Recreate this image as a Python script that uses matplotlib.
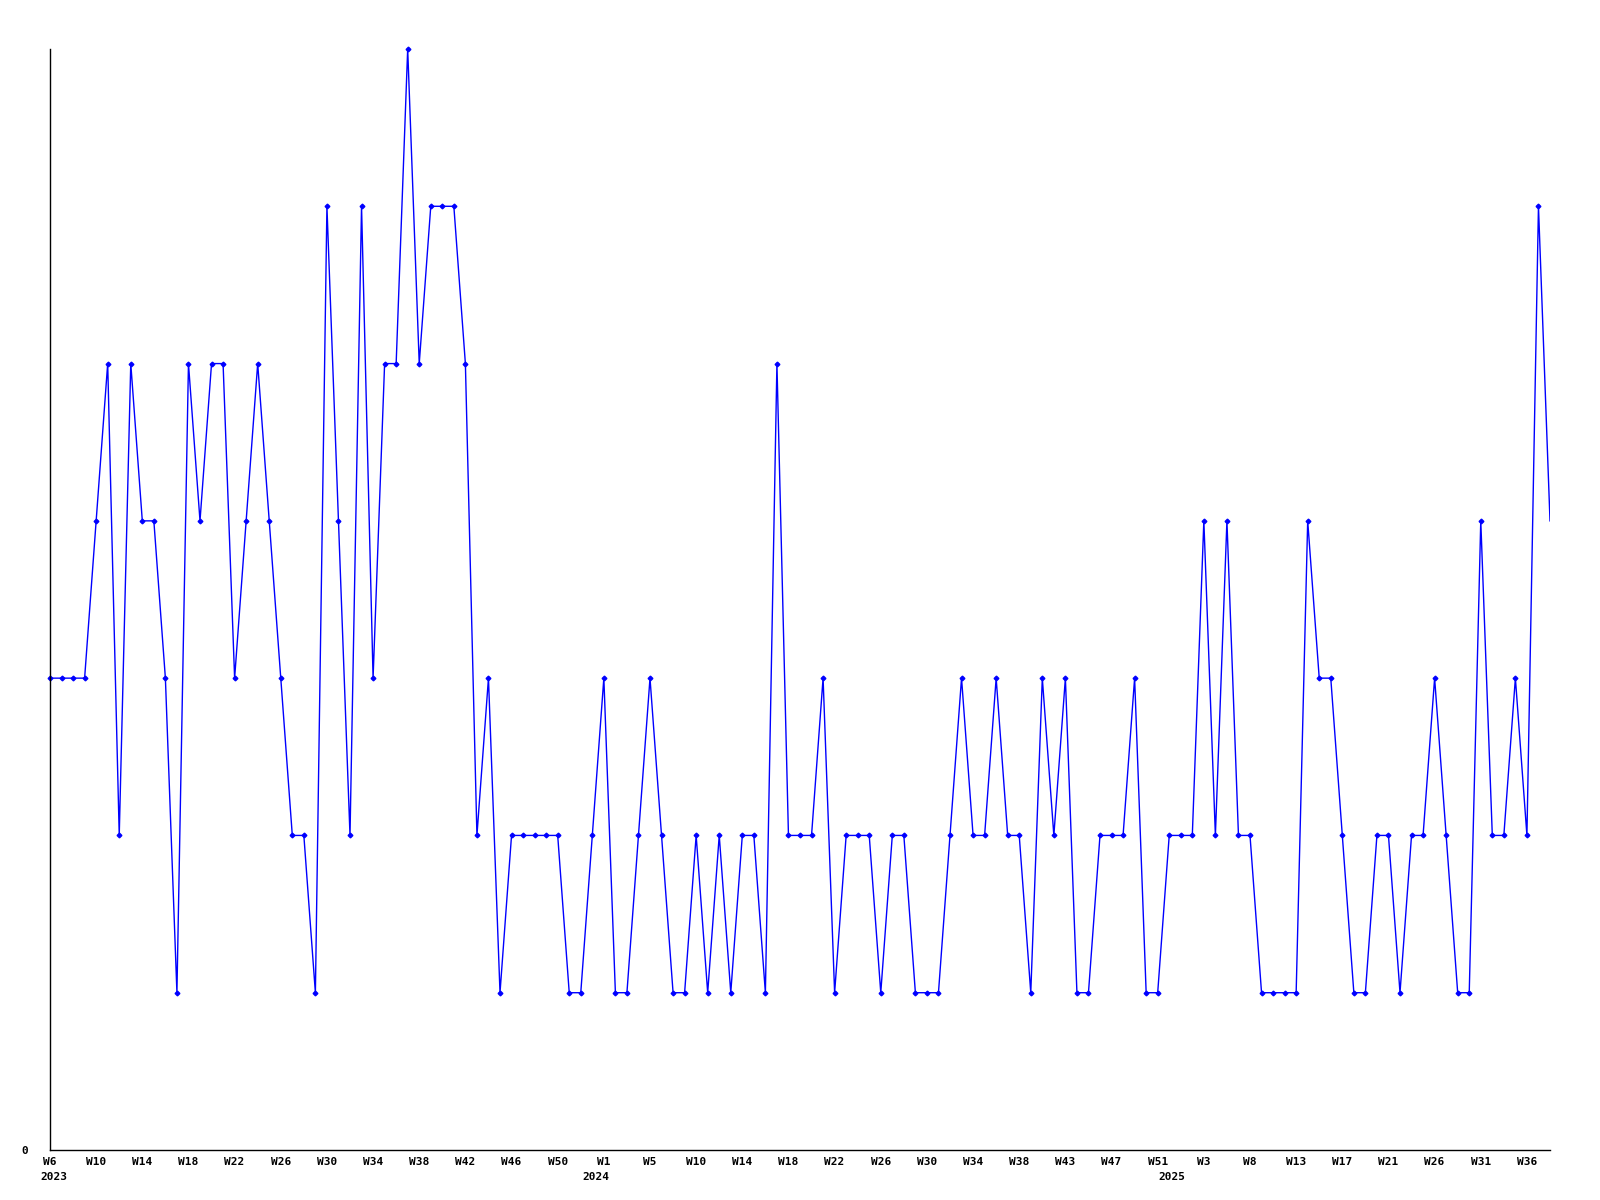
import matplotlib
matplotlib.use("Agg")
import matplotlib.pyplot as plt
import matplotlib.transforms as mtransforms

# weekly counts (weeks with no entries are not plotted)
values = [3, 3, 3, 3, 4, 5, 2, 5, 4, 4, 3, 1, 5, 4, 5, 5, 3, 4, 5, 4,
          3, 2, 2, 1, 6, 4, 2, 6, 3, 5, 5, 7, 5, 6, 6, 6, 5, 2, 3, 1,
          2, 2, 2, 2, 2, 1, 1, 2, 3, 1, 1, 2, 3, 2, 1, 1, 2, 1, 2, 1,
          2, 2, 1, 5, 2, 2, 2, 3, 1, 2, 2, 2, 1, 2, 2, 1, 1, 1, 2, 3,
          2, 2, 3, 2, 2, 1, 3, 2, 3, 1, 1, 2, 2, 2, 3, 1, 1, 2, 2, 2,
          4, 2, 4, 2, 2, 1, 1, 1, 1, 4, 3, 3, 2, 1, 1, 2, 2, 1, 2, 2,
          3, 2, 1, 1, 4, 2, 2, 3, 2, 6, 4]

tick_labels = ["W6", "W10", "W14", "W18", "W22", "W26", "W30", "W34", "W38",
               "W42", "W46", "W50", "W1", "W5", "W10", "W14", "W18", "W22",
               "W26", "W30", "W34", "W38", "W43", "W47", "W51", "W3", "W8",
               "W13", "W17", "W21", "W26", "W31", "W36"]
tick_step = 4

years = ["2023", "2024", "2025"]
year_pos = [0.3, 47.3, 97.2]

fig = plt.figure(figsize=(16, 12), dpi=100)
ax = fig.add_axes([50 / 1600, 50 / 1200, 1500 / 1600, 1101 / 1200])

x = list(range(len(values)))
ax.plot(x, values, color="#0000ff", linewidth=1.0)
ax.plot(x[:-1], values[:-1], linestyle="none", marker="D", markersize=2.4,
        color="#0000ff", clip_on=False)

ax.set_xlim(0, len(values) - 1)
ax.set_ylim(0, 7)

font = dict(family="DejaVu Sans Mono", weight="bold", size=8)

ax.set_xticks(list(range(0, tick_step * len(tick_labels), tick_step)))
ax.set_xticklabels(tick_labels, **font)
ax.set_yticks([0])
ax.set_yticklabels(["0"], **font)
ax.tick_params(axis="both", length=0)
ax.tick_params(axis="x", pad=5)
ax.tick_params(axis="y", pad=16)

trans = mtransforms.blended_transform_factory(ax.transData, fig.transFigure)
for yr, xp in zip(years, year_pos):
    ax.text(xp, 1 - 1177 / 1200, yr, transform=trans, ha="center",
            va="center", **font)

for side in ("top", "right"):
    ax.spines[side].set_visible(False)
for side in ("left", "bottom"):
    ax.spines[side].set_linewidth(1.0)
    ax.spines[side].set_color("black")

fig.savefig("out.png", dpi=100, facecolor="white")
